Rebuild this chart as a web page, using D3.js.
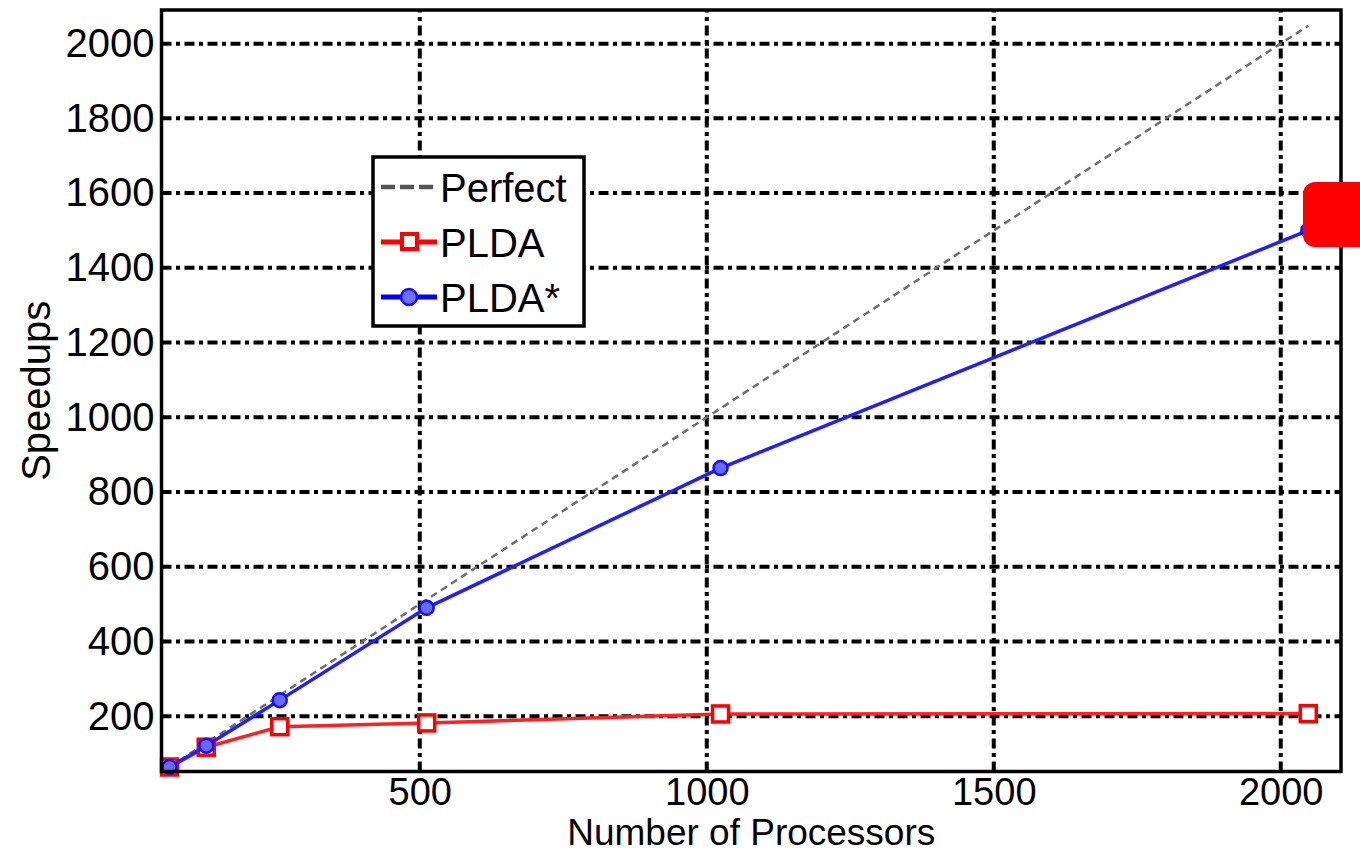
<html lang="en">
<head>
    <meta charset="UTF-8">
    <title>Speedups</title>
    <script src="https://d3js.org/d3.v7.min.js"></script>
    <style>
        body { margin: 0; background: #fff; }
        text { font-family: "Liberation Sans", Arial, sans-serif; fill: #000; }
    </style>
</head>
<body>
    <div class="chart"></div>
    <script>
        // data
        const processors = [64, 128, 256, 512, 1024, 2048];
        const perfect = [64, 128, 256, 512, 1024, 2048];
        const plda = [64, 117, 172, 182, 206, 207];
        const pldaStar = [64, 121, 243, 490, 864, 1500];
        const xTicks = [500, 1000, 1500, 2000];
        const yTicks = [200, 400, 600, 800, 1000, 1200, 1400, 1600, 1800, 2000];
        const legendNames = ["Perfect", "PLDA", "PLDA*"];

        const W = 1360, H = 854;
        const margin = {top: 10, right: 19, bottom: 82.5, left: 161.5};
        const width = W - margin.left - margin.right;
        const height = H - margin.top - margin.bottom;

        const svg = d3.select('.chart').append('svg')
            .attr('width', W)
            .attr('height', H);

        const g = svg.append('g')
            .attr('transform', `translate(${margin.left},${margin.top})`);

        const x = d3.scaleLinear().domain([50, 2105]).range([0, width]);
        const y = d3.scaleLinear().domain([52, 2090]).range([height, 0]);

        // grid
        const gridDash = "10,4.5,4,4.5";
        g.selectAll('.hgrid').data(yTicks).join('line')
            .attr('x1', 0).attr('x2', width)
            .attr('y1', d => y(d)).attr('y2', d => y(d))
            .attr('stroke', '#000').attr('stroke-width', 4)
            .attr('stroke-dasharray', gridDash);
        g.selectAll('.vgrid').data(xTicks).join('line')
            .attr('y1', height).attr('y2', 0)
            .attr('x1', d => x(d)).attr('x2', d => x(d))
            .attr('stroke', '#000').attr('stroke-width', 4)
            .attr('stroke-dasharray', gridDash);

        // axes (labels only, frame drawn below)
        const xAxis = d3.axisBottom(x).tickValues(xTicks).tickFormat(d3.format('d')).tickSize(0).tickPadding(7);
        const yAxis = d3.axisLeft(y).tickValues(yTicks).tickFormat(d3.format('d')).tickSize(0).tickPadding(7);
        const gx = g.append('g').attr('transform', `translate(0,${height})`).call(xAxis);
        const gy = g.append('g').call(yAxis);
        [gx, gy].forEach(a => {
            a.select('.domain').remove();
            a.selectAll('text').attr('font-size', 40)
                .attr('font-family', '"Liberation Sans", Arial, sans-serif');
        });
        gx.selectAll('text').attr('font-size', 38);

        // lines
        const pts = arr => processors.map((p, i) => [p, arr[i]]);
        const line = d3.line().x(d => x(d[0])).y(d => y(d[1]));

        g.append('path').datum(pts(perfect))
            .attr('d', line).attr('fill', 'none')
            .attr('stroke', '#6e6e6e').attr('stroke-width', 2.5)
            .attr('stroke-dasharray', '7,5');

        g.append('path').datum(pts(plda))
            .attr('d', line).attr('fill', 'none')
            .attr('stroke', '#ff2020').attr('stroke-width', 3.5);
        g.selectAll('.sq').data(pts(plda)).join('rect')
            .attr('x', d => x(d[0]) - 8).attr('y', d => y(d[1]) - 8)
            .attr('width', 16).attr('height', 16)
            .attr('fill', '#fff').attr('stroke', '#ff0000').attr('stroke-width', 3.5);

        g.append('path').datum(pts(pldaStar))
            .attr('d', line).attr('fill', 'none')
            .attr('stroke', '#2020ff').attr('stroke-width', 3.5);
        g.selectAll('.ci').data(pts(pldaStar)).join('circle')
            .attr('cx', d => x(d[0])).attr('cy', d => y(d[1]))
            .attr('r', 7)
            .attr('fill', '#6a6aff').attr('stroke', '#1010ff').attr('stroke-width', 2.5);

        // frame
        g.append('rect')
            .attr('width', width).attr('height', height)
            .attr('fill', 'none').attr('stroke', '#000').attr('stroke-width', 3.5);

        // axis titles
        svg.append('text')
            .attr('x', margin.left + width / 2).attr('y', 845)
            .attr('text-anchor', 'middle').attr('font-size', 37)
            .text('Number of Processors');
        svg.append('text')
            .attr('transform', `translate(50,${margin.top + height / 2}) rotate(-90)`)
            .attr('text-anchor', 'middle').attr('font-size', 40)
            .text('Speedups');

        // legend
        const leg = svg.append('g').attr('transform', 'translate(373,157)');
        leg.append('rect')
            .attr('width', 211).attr('height', 169)
            .attr('fill', '#fff').attr('stroke', '#000').attr('stroke-width', 3.5);
        const rows = leg.selectAll('.row').data(legendNames).join('g')
            .attr('transform', (d, i) => `translate(0,${30 + i * 55})`);
        rows.append('line')
            .attr('x1', 8).attr('x2', 64)
            .attr('stroke', (d, i) => ['#555', '#ff0000', '#0000ff'][i])
            .attr('stroke-width', (d, i) => i === 0 ? 4.5 : 5)
            .attr('stroke-dasharray', (d, i) => i === 0 ? '14,5' : null);
        rows.filter((d, i) => i === 1).append('rect')
            .attr('x', 29).attr('y', -8).attr('width', 15).attr('height', 15)
            .attr('fill', '#fff').attr('stroke', '#ff0000').attr('stroke-width', 4);
        rows.filter((d, i) => i === 2).append('circle')
            .attr('cx', 36).attr('cy', 0).attr('r', 8)
            .attr('fill', '#7070ff').attr('stroke', '#1010ff').attr('stroke-width', 2.5);
        rows.append('text')
            .attr('x', 67).attr('y', 15)
            .attr('font-size', 40)
            .text(d => d);

        // red marker box overlapping right edge
        svg.append('rect')
            .attr('x', 1303).attr('y', 182)
            .attr('width', 80).attr('height', 65)
            .attr('rx', 12)
            .attr('fill', '#ff0000');
    </script>
</body>
</html>
